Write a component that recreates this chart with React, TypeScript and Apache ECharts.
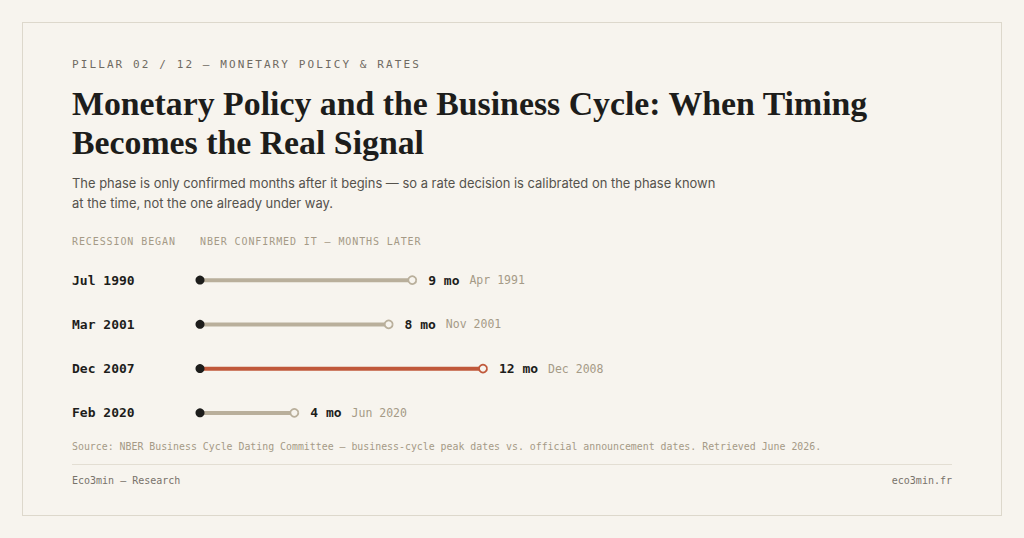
import { useEffect, useRef } from 'react'
import * as echarts from 'echarts'

const recessionStart = ['Jul 1990', 'Mar 2001', 'Dec 2007', 'Feb 2020']
const monthsLater = [9, 8, 12, 4]
const confirmedOn = ['Apr 1991', 'Nov 2001', 'Dec 2008', 'Jun 2020']
const highlightIndex = 2

const BG = '#f7f4ee'
const INK = '#1d1d1b'
const MUTED = '#a59a86'
const GREY_BAR = '#b9af9b'
const RED = '#c0583a'
const MONO = '"DejaVu Sans Mono", "Liberation Mono", monospace'
const SERIF = '"Liberation Serif", "DejaVu Serif", serif'
const SANS = 'Inter, "Noto Sans", sans-serif'

export default function App() {
  const chartRef = useRef<HTMLDivElement>(null)

  useEffect(() => {
    if (!chartRef.current) return
    const chart = echarts.init(chartRef.current, undefined, { renderer: 'svg' })

    const colorAt = (i: number) => (i === highlightIndex ? RED : GREY_BAR)

    const option: echarts.EChartsOption = {
      animation: false,
      backgroundColor: 'transparent',
      grid: { left: 200, width: 283, top: 258, height: 177 },
      xAxis: {
        type: 'value',
        min: 0,
        max: 12,
        show: false,
      },
      yAxis: {
        type: 'category',
        inverse: true,
        data: recessionStart,
        axisLine: { show: false },
        axisTick: { show: false },
        axisLabel: {
          align: 'left',
          margin: 128,
          color: INK,
          fontFamily: MONO,
          fontWeight: 'bold',
          fontSize: 13,
        },
      },
      series: [
        {
          type: 'bar',
          data: monthsLater.map((v, i) => ({ value: v, itemStyle: { color: colorAt(i) } })),
          barWidth: 4,
          silent: true,
          z: 1,
        },
        {
          type: 'scatter',
          data: monthsLater.map((_, i) => [0, i]),
          symbol: 'circle',
          symbolSize: 9,
          itemStyle: { color: INK, opacity: 1 },
          silent: true,
          z: 3,
        },
        {
          type: 'scatter',
          data: monthsLater.map((v, i) => ({
            value: [v, i],
            itemStyle: { color: BG, borderColor: colorAt(i), borderWidth: 1.8, opacity: 1 },
          })),
          symbol: 'circle',
          symbolSize: 8,
          silent: true,
          z: 3,
          label: {
            show: true,
            position: 'right',
            distance: 11,
            formatter: (p: any) => {
              const i = p.dataIndex
              return `{m|${monthsLater[i]} mo}{d|${confirmedOn[i]}}`
            },
            rich: {
              m: { fontFamily: MONO, fontWeight: 'bold', fontSize: 13, color: INK },
              d: { fontFamily: MONO, fontSize: 11.5, color: MUTED, padding: [0, 0, 0, 10] },
            },
          },
        },
      ],
    }

    chart.setOption(option)
    return () => {
      chart.dispose()
    }
  }, [])

  const abs = (top: number, extra: React.CSSProperties = {}): React.CSSProperties => ({
    position: 'absolute',
    left: 72,
    top,
    margin: 0,
    whiteSpace: 'nowrap',
    ...extra,
  })

  return (
    <div
      style={{
        position: 'fixed',
        left: 0,
        top: 0,
        width: 1024,
        height: 538,
        background: BG,
        overflow: 'hidden',
      }}
    >
      <div
        style={{
          position: 'absolute',
          left: 22,
          top: 22,
          width: 978,
          height: 492,
          border: '1px solid #ddd8cc',
        }}
      />
      <div ref={chartRef} style={{ position: 'absolute', left: 0, top: 0, width: 1024, height: 538 }} />

      <div
        style={abs(58, {
          fontFamily: MONO,
          fontSize: 11,
          letterSpacing: 2.1,
          color: '#6f6a62',
          lineHeight: '14px',
        })}
      >
        PILLAR 02 / 12 — MONETARY POLICY &amp; RATES
      </div>

      <div
        style={abs(84, {
          fontFamily: SERIF,
          fontSize: 33.8,
          fontWeight: 700,
          color: INK,
          lineHeight: '39px',
        })}
      >
        Monetary Policy and the Business Cycle: When Timing
        <br />
        Becomes the Real Signal
      </div>

      <div
        style={abs(173, {
          fontFamily: SANS,
          fontSize: 12.95,
          color: '#55524c',
          lineHeight: '20px',
        })}
      >
        The phase is only confirmed months after it begins — so a rate decision is calibrated on the phase known
        <br />
        at the time, not the one already under way.
      </div>

      <div
        style={abs(236, {
          fontFamily: MONO,
          fontSize: 10,
          letterSpacing: 0.9,
          color: MUTED,
          lineHeight: '12px',
        })}
      >
        RECESSION BEGAN
      </div>
      <div
        style={abs(236, {
          left: 200,
          fontFamily: MONO,
          fontSize: 10,
          letterSpacing: 0.9,
          color: MUTED,
          lineHeight: '12px',
        })}
      >
        NBER CONFIRMED IT — MONTHS LATER
      </div>

      <div
        style={abs(441, {
          fontFamily: MONO,
          fontSize: 9.9,
          color: MUTED,
          lineHeight: '12px',
        })}
      >
        Source: NBER Business Cycle Dating Committee — business-cycle peak dates vs. official announcement dates.
        Retrieved June 2026.
      </div>

      <div
        style={{
          position: 'absolute',
          left: 72,
          top: 464,
          width: 880,
          height: 1,
          background: '#e3ded3',
        }}
      />

      <div
        style={abs(475, {
          fontFamily: MONO,
          fontSize: 10,
          color: '#77726a',
          lineHeight: '12px',
        })}
      >
        Eco3min — Research
      </div>
      <div
        style={abs(475, {
          left: 'auto',
          right: 72,
          fontFamily: MONO,
          fontSize: 10,
          color: '#77726a',
          lineHeight: '12px',
        })}
      >
        eco3min.fr
      </div>
    </div>
  )
}
